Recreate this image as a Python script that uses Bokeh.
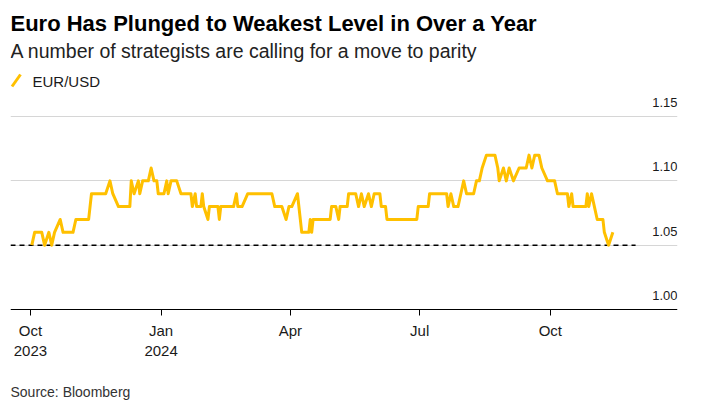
import pandas as pd
from bokeh.plotting import figure
from bokeh.models import Label, Arrow, FixedTicker, Range1d
from bokeh.embed import file_html
from bokeh.resources import INLINE

# ---------------- data ----------------
title_text = "Euro Has Plunged to Weakest Level in Over a Year"
subtitle_text = "A number of strategists are calling for a move to parity"
series_name = "EUR/USD"
source_text = "Source: Bloomberg"

dates = [
    "2023-10-02", "2023-10-04", "2023-10-09", "2023-10-11", "2023-10-14", "2023-10-16",
    "2023-10-18", "2023-10-22", "2023-10-24", "2023-10-31", "2023-11-02", "2023-11-11",
    "2023-11-13", "2023-11-23", "2023-11-26", "2023-11-28", "2023-12-02", "2023-12-10",
    "2023-12-11", "2023-12-13", "2023-12-16", "2023-12-17", "2023-12-19", "2023-12-23",
    "2023-12-25", "2023-12-27", "2023-12-29", "2023-12-30", "2024-01-03", "2024-01-05",
    "2024-01-06", "2024-01-08", "2024-01-12", "2024-01-15", "2024-01-22", "2024-01-23",
    "2024-01-25", "2024-01-26", "2024-01-29", "2024-01-30", "2024-01-31", "2024-02-03",
    "2024-02-04", "2024-02-10", "2024-02-11", "2024-02-12", "2024-02-21", "2024-02-23",
    "2024-02-24", "2024-02-27", "2024-03-02", "2024-03-19", "2024-03-21", "2024-03-26",
    "2024-03-29", "2024-03-31", "2024-04-02", "2024-04-06", "2024-04-08", "2024-04-09",
    "2024-04-14", "2024-04-15", "2024-04-16", "2024-04-17", "2024-04-29", "2024-04-30",
    "2024-05-03", "2024-05-05", "2024-05-06", "2024-05-11", "2024-05-12", "2024-05-17",
    "2024-05-19", "2024-05-21", "2024-05-23", "2024-05-26", "2024-05-28", "2024-05-30",
    "2024-06-03", "2024-06-04", "2024-06-07", "2024-06-08", "2024-06-29", "2024-06-30",
    "2024-07-07", "2024-07-08", "2024-07-20", "2024-07-21", "2024-07-23", "2024-07-25",
    "2024-07-28", "2024-07-30", "2024-08-01", "2024-08-03", "2024-08-08", "2024-08-10",
    "2024-08-12", "2024-08-14", "2024-08-17", "2024-08-23", "2024-08-25", "2024-08-26",
    "2024-08-29", "2024-08-31", "2024-09-02", "2024-09-05", "2024-09-09", "2024-09-14",
    "2024-09-16", "2024-09-18", "2024-09-20", "2024-09-23", "2024-09-25", "2024-09-29",
    "2024-10-04", "2024-10-06", "2024-10-13", "2024-10-14", "2024-10-16", "2024-10-17",
    "2024-10-26", "2024-10-27", "2024-10-28", "2024-10-30", "2024-11-01", "2024-11-03",
    "2024-11-07", "2024-11-08", "2024-11-11", "2024-11-14",
]
eurusd = [
    1.05, 1.06, 1.06, 1.05, 1.06, 1.05,
    1.06, 1.07, 1.06, 1.06, 1.07, 1.07,
    1.09, 1.09, 1.10, 1.09, 1.08, 1.08,
    1.10, 1.09, 1.10, 1.09, 1.10, 1.10,
    1.11, 1.10, 1.10, 1.09, 1.09, 1.10,
    1.09, 1.10, 1.10, 1.09, 1.09, 1.08,
    1.09, 1.08, 1.08, 1.09, 1.08, 1.07,
    1.08, 1.08, 1.07, 1.08, 1.08, 1.09,
    1.08, 1.08, 1.09, 1.09, 1.08, 1.08,
    1.07, 1.08, 1.08, 1.09, 1.07, 1.06,
    1.06, 1.07, 1.06, 1.07, 1.07, 1.08,
    1.08, 1.07, 1.08, 1.08, 1.09, 1.09,
    1.08, 1.09, 1.08, 1.09, 1.08, 1.09,
    1.09, 1.08, 1.08, 1.07, 1.07, 1.08,
    1.08, 1.09, 1.09, 1.08, 1.09, 1.08,
    1.08, 1.09, 1.10, 1.09, 1.09, 1.10,
    1.10, 1.11, 1.12, 1.12, 1.11, 1.10,
    1.11, 1.10, 1.11, 1.10, 1.11, 1.11,
    1.12, 1.11, 1.12, 1.12, 1.11, 1.10,
    1.10, 1.09, 1.09, 1.08, 1.09, 1.08,
    1.08, 1.09, 1.08, 1.09, 1.08, 1.07,
    1.07, 1.06, 1.05, 1.06,
]

ref_level = 1.05
ref_dates = ["2023-09-17", "2024-11-30"]

x_start, x_end = "2023-09-17", "2024-12-29 12:00"
axis_level = 1.00
# frame covers the whole canvas height: header above and axis labels/source below live inside it
y_start, y_end = 0.9215, 1.2402

y_ticks = [1.00, 1.05, 1.10, 1.15]
y_tick_labels = ["1.00", "1.05", "1.10", "1.15"]
x_tick_dates = ["2023-10-01", "2024-01-01", "2024-04-01", "2024-07-01", "2024-10-01"]
x_tick_labels = ["Oct\n2023", "Jan\n2024", "Apr", "Jul", "Oct"]

# ---------------- styling / layout ----------------
FONT = "Liberation Sans"
YELLOW = "#FFC000"
W, H = 704, 410
ML, MR = 10, 27
frame_w = W - ML - MR


def up(canvas_y):
    """screen offset above the frame bottom (== canvas bottom) for a canvas y"""
    return H - canvas_y


p = figure(
    width=W, height=H, x_axis_type="datetime",
    output_backend="svg", toolbar_location=None,
    x_range=Range1d(pd.Timestamp(x_start), pd.Timestamp(x_end)),
    y_range=Range1d(y_start, y_end),
    min_border_left=ML, min_border_right=MR, min_border_top=0, min_border_bottom=0,
    y_axis_location=None,
)
p.outline_line_color = None
p.background_fill_color = "white"
p.border_fill_color = "white"

p.xgrid.visible = False
p.ygrid.ticker = FixedTicker(ticks=[t for t in y_ticks if t > axis_level])
p.ygrid.grid_line_color = "#d6d6d6"
p.ygrid.grid_line_width = 1

tick_ms = [float(pd.Timestamp(d).value // 10**6) for d in x_tick_dates]
ax = p.xaxis[0]
ax.fixed_location = axis_level
ax.ticker = FixedTicker(ticks=tick_ms)
ax.major_label_overrides = {t: lab for t, lab in zip(tick_ms, x_tick_labels)}
ax.axis_line_color = "#000000"
ax.axis_line_width = 1
ax.major_tick_line_color = "#000000"
ax.major_tick_out = 6
ax.major_tick_in = 0
ax.minor_tick_line_color = None
ax.major_label_standoff = 6
ax.major_label_text_font = FONT
ax.major_label_text_font_size = "15px"
ax.major_label_text_color = "#1a1a1a"

# reference (dashed) line and series
p.line(x=pd.to_datetime(ref_dates), y=[ref_level] * len(ref_dates),
       line_color="#000000", line_width=1.5, line_dash="5 4")
p.line(x=pd.to_datetime(dates), y=eurusd, line_color=YELLOW, line_width=3,
       line_join="round")

# y tick labels above gridlines, right aligned
for v, lab in zip(y_ticks, y_tick_labels):
    p.add_layout(Label(x=frame_w, y=v, x_units="screen", y_units="data", text=lab,
                       text_align="right", text_baseline="alphabetic", y_offset=14,
                       text_font=FONT, text_font_size="13px", text_color="#1a1a1a"))

# header
p.add_layout(Label(x=0, y=up(23), x_units="screen", y_units="screen", text=title_text,
                   text_font=FONT, text_font_style="bold", text_font_size="22px",
                   text_color="#000000", text_baseline="alphabetic"))
p.add_layout(Label(x=0, y=up(50), x_units="screen", y_units="screen", text=subtitle_text,
                   text_font=FONT, text_font_size="19.5px",
                   text_color="#222222", text_baseline="alphabetic"))
# legend
p.add_layout(Arrow(start=None, end=None, x_start=1.5, y_start=up(86), x_end=10, y_end=up(74),
                   start_units="screen", end_units="screen",
                   line_color=YELLOW, line_width=3))
p.add_layout(Label(x=22, y=up(81), x_units="screen", y_units="screen", text=series_name,
                   text_font=FONT, text_font_size="15px",
                   text_color="#1a1a1a", text_baseline="alphabetic"))
# source
p.add_layout(Label(x=0, y=up(391), x_units="screen", y_units="screen", text=source_text,
                   text_font=FONT, text_font_size="14px",
                   text_color="#333333", text_baseline="alphabetic"))

open("out.html", "w").write(file_html(p, INLINE))
